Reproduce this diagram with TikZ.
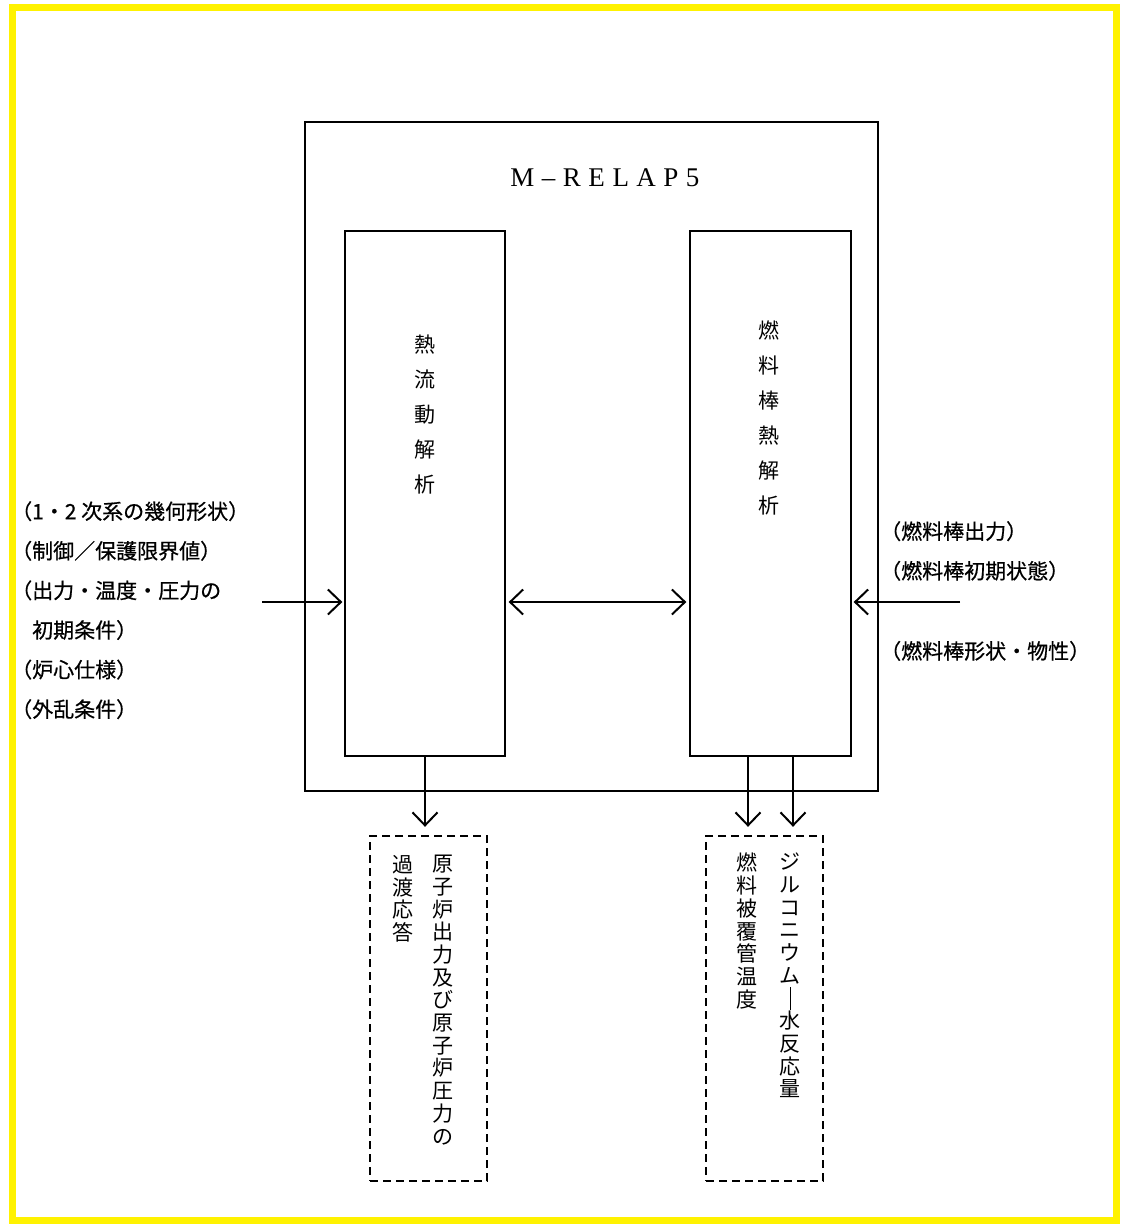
\documentclass[tikz,border=0pt]{standalone}
\usepackage{fontspec}
\usepackage{graphicx}
\newfontfamily\jp{Noto Sans CJK JP}
\newfontfamily\jpb[FakeBold=0.6]{Noto Sans CJK JP}
\newfontfamily\ttlfont{Liberation Serif}
\usetikzlibrary{positioning, arrows.meta}

\newcommand{\tsp}{\kern7.5pt}
\newcommand{\tatebar}{\smash{\rule[-3.5pt]{0.9pt}{23pt}}}

\tikzset{
 box/.style={draw, line width=1.3pt, inner sep=0pt},
 outbox/.style={draw, dash pattern=on 8pt off 5pt, line width=2.4pt,
   minimum width=117pt, minimum height=345pt, inner sep=0pt},
 arr/.style={line width=2pt, -{Straight Barb[length=13pt,width=25pt,line width=2pt]}},
 arrboth/.style={line width=2pt, {Straight Barb[length=13pt,width=25pt,line width=2pt]}-{Straight Barb[length=13pt,width=25pt,line width=2pt]}},
 vtext/.style={font=\jp\fontsize{21}{35}\selectfont, align=center, inner sep=0pt},
 outtext/.style={font=\jp\fontsize{21}{22.7}\selectfont, align=center, inner sep=0pt, anchor=north},
 lbl/.style={font=\jpb\fontsize{21}{39.6}\selectfont, align=left, inner sep=0pt, anchor=north west}
}

\begin{document}
\begin{tikzpicture}[x=1pt,y=-1pt]

 \useasboundingbox (0,0) rectangle (1121,1224);
 \fill[white] (0,0) rectangle (1121,1224);
 \draw[yellow, line width=7pt] (12.5,7.5) rectangle (1116.5,1220.5);

 % M-RELAP5
 \node[box, minimum width=573pt, minimum height=669pt] (relap) at (591.5,456.5) {};
 \node[font=\ttlfont\fontsize{27}{30}\selectfont, inner sep=0pt] (ttl) at (605,178)
   {M\tsp–\tsp R\tsp E\tsp L\tsp A\tsp P\tsp 5};

 \node[box, minimum width=160pt, minimum height=525pt] (heat) at (425,493.5) {};
 \node[box, minimum width=161pt, minimum height=525pt] (fuel) at (770.5,493.5) {};
 \node[vtext] (heatTxt) at (425,415) {熱\\流\\動\\解\\析};
 \node[vtext] (fuelTxt) at (769,417.5) {燃\\料\\棒\\熱\\解\\析};

 % inputs
 \node[lbl] (inL) at (11,501) {（1・2 次系の幾何形状）\\（制御／保護限界値）\\（出力・温度・圧力の\\　初期条件）\\（炉心仕様）\\（外乱条件）};
 \node[lbl] (inR) at (880,521) {（燃料棒出力）\\（燃料棒初期状態）\\[40.5pt]（燃料棒形状・物性）};
 \coordinate (inLa) at (262,602);
 \coordinate (inRa) at (960,602);

 \draw[arr] (inLa) -- ([xshift=-2pt]heat.west |- inLa);
 \draw[arr] (inRa) -- ([xshift=2pt]fuel.east |- inRa);
 \draw[arrboth] ([xshift=3pt]heat.east |- inLa) -- ([xshift=-3pt]fuel.west |- inLa);

 % outputs
 \node[outbox] (outL) at (428.5,1008.5) {};
 \node[outbox] (outR) at (764.5,1008.5) {};
 \node[outtext] (outL1) at (443,855) {原\\子\\炉\\出\\力\\及\\び\\原\\子\\炉\\圧\\力\\の};
 \node[outtext] (outL2) at (403,855) {過\\渡\\応\\答};
 \node[outtext] (outR1) at (790,853) {ジ\\ル\\コ\\ニ\\ウ\\ム\\\tatebar\\水\\反\\応\\量};
 \node[outtext] (outR2) at (747,853) {燃\\料\\被\\覆\\管\\温\\度};

 \draw[arr, shorten >=8pt] (heat.south) -- (heat.south |- outL.north);
 \draw[arr, shorten >=8pt] ([xshift=-22.5pt]fuel.south) -- ([xshift=-22.5pt]fuel.south |- outR.north);
 \draw[arr, shorten >=8pt] ([xshift=22.5pt]fuel.south) -- ([xshift=22.5pt]fuel.south |- outR.north);

\end{tikzpicture}
\end{document}
